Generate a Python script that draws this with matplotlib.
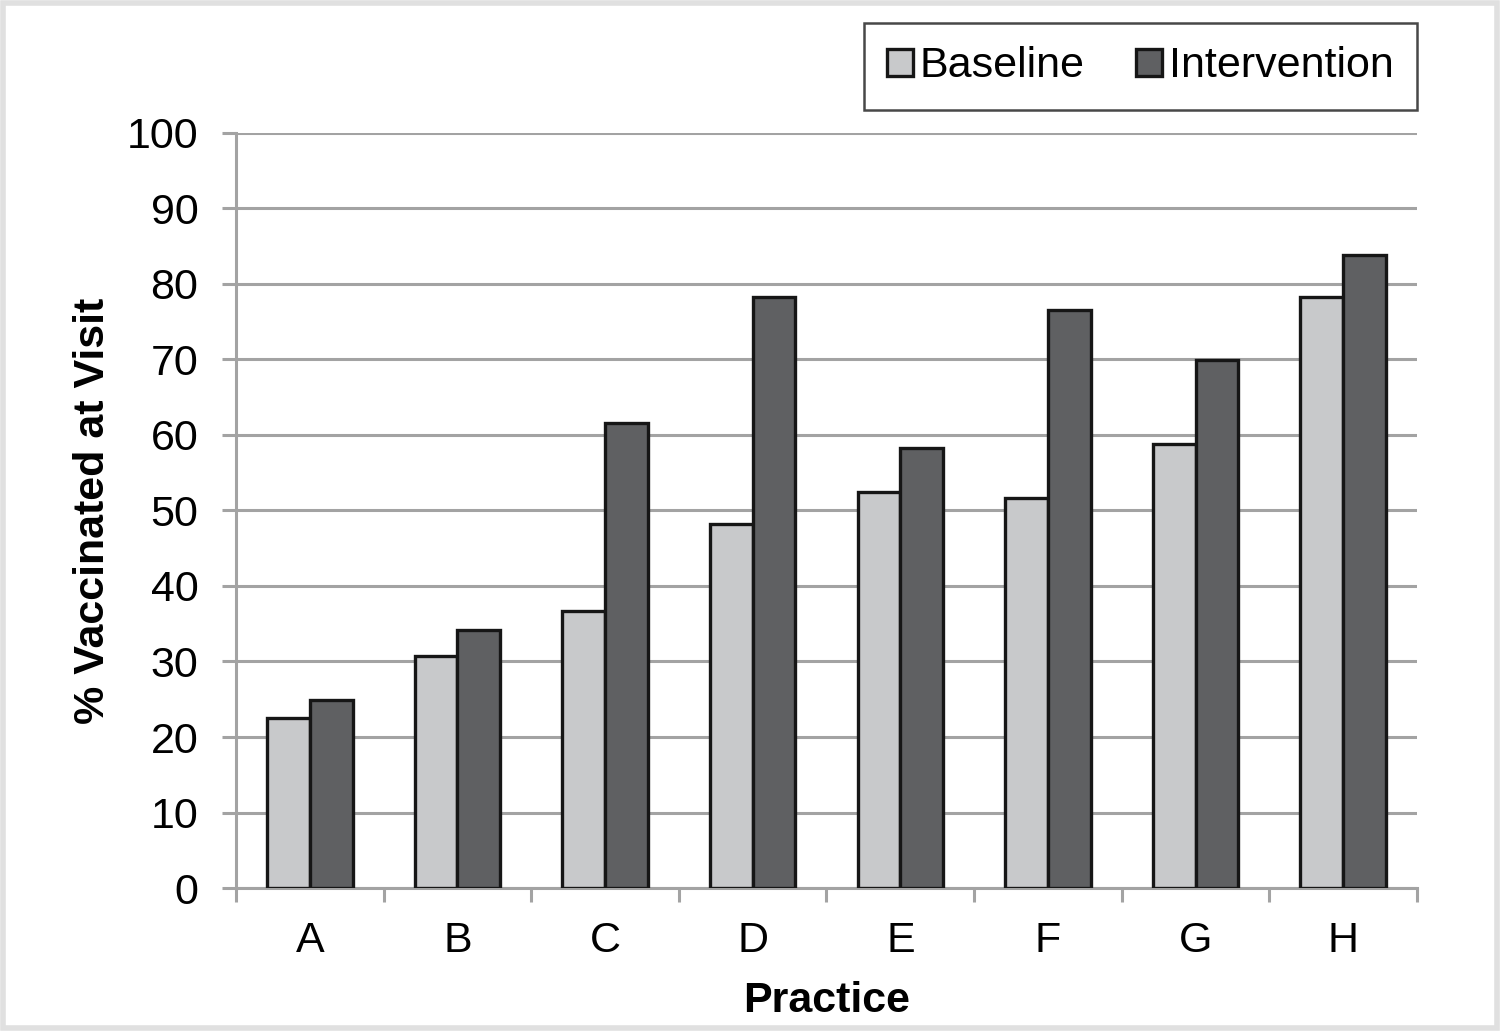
import matplotlib.pyplot as plt
import numpy as np
from matplotlib.patches import Rectangle

plt.rcParams['font.family'] = ['Liberation Sans', 'DejaVu Sans']

practices = ["A", "B", "C", "D", "E", "F", "G", "H"]
baseline = [22.5, 30.7, 36.7, 48.2, 52.5, 51.7, 58.8, 78.3]
intervention = [24.9, 34.2, 61.6, 78.3, 58.3, 76.6, 69.9, 83.8]

grid_col = '#a3a3a3'
fs = 31

fig = plt.figure(figsize=(15, 10.31), dpi=100)
ax = fig.add_axes([0.1573, 0.1387, 0.7874, 0.7323])

x = np.arange(len(practices))
w = 0.29
ax.bar(x - w/2, baseline, w, color='#c8c9cb', edgecolor='#161616', linewidth=2.4,
       label='Baseline', zorder=3)
ax.bar(x + w/2, intervention, w, color='#5f6062', edgecolor='#161616', linewidth=2.4,
       label='Intervention', zorder=3)

ax.set_xlim(-0.5, len(practices) - 0.5)
ax.set_ylim(0, 100)
ax.set_yticks(range(0, 101, 10))
ax.yaxis.grid(True, color=grid_col, linewidth=2.2, zorder=0)

ax.set_xticks(x)
ax.set_xticklabels(practices)
ax.tick_params(axis='x', length=0, labelsize=fs, pad=24)
ax.set_xticks(np.arange(-0.5, len(practices)), minor=True)
ax.tick_params(axis='x', which='minor', length=10, width=2.2, color=grid_col)
ax.tick_params(axis='y', length=10, width=2.2, color=grid_col, labelsize=fs, pad=17)

for s in ['top', 'right']:
    ax.spines[s].set_visible(False)
for s in ['left', 'bottom']:
    ax.spines[s].set_color(grid_col)
    ax.spines[s].set_linewidth(2.2)

ax.set_ylabel('% Vaccinated at Visit', fontsize=fs, fontweight='bold', labelpad=10)
ax.set_xlabel('Practice', fontsize=fs, fontweight='bold', labelpad=14)

leg = ax.legend(loc='upper right', bbox_to_anchor=(1.0, 1.146), ncol=2, fontsize=fs,
                frameon=True, fancybox=False, edgecolor='#1a1a1a', handlelength=0.6,
                handleheight=0.6, handletextpad=0.15, columnspacing=1.2,
                borderpad=0.55, borderaxespad=0)
leg.get_frame().set_linewidth(1.8)

# light frame around the whole picture
fig.patches.append(Rectangle((0.002, 0.003), 0.996, 0.994, transform=fig.transFigure,
                             fill=False, edgecolor='#e0e0e0', linewidth=4))

fig.savefig('out.png', dpi=100)
